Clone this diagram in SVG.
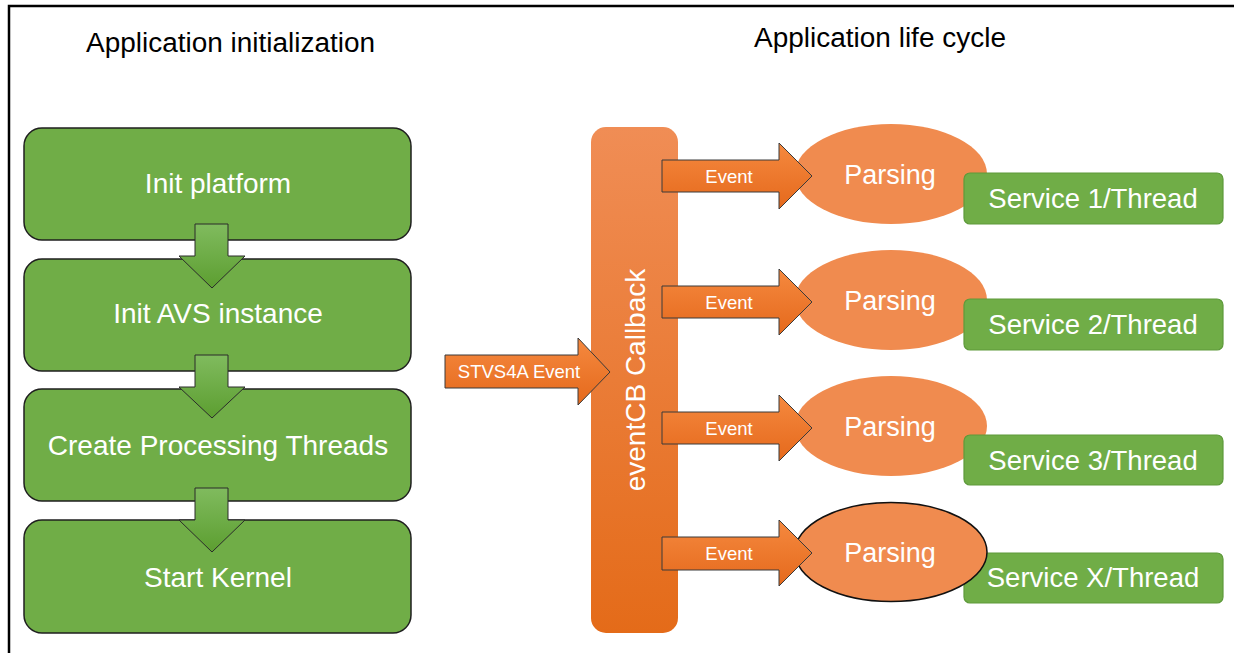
<svg xmlns="http://www.w3.org/2000/svg" width="1234" height="653" viewBox="0 0 1234 653">
<defs>
<linearGradient id="gDown" x1="0" y1="0" x2="0" y2="1">
<stop offset="0" stop-color="#80BB5E"/>
<stop offset="1" stop-color="#5C9E30"/>
</linearGradient>
<linearGradient id="gCol" x1="0" y1="0" x2="0" y2="1">
<stop offset="0" stop-color="#F08D55"/>
<stop offset="1" stop-color="#E46B19"/>
</linearGradient>
<linearGradient id="gArr" x1="0" y1="0" x2="0" y2="1">
<stop offset="0" stop-color="#F5893F"/>
<stop offset="1" stop-color="#E5691C"/>
</linearGradient>
</defs>
<style>
.t{font-family:"Liberation Sans",Arial,sans-serif;}
.title{font-size:27px;fill:#000;}
.step{fill:#70AD47;stroke:#1f1f1f;stroke-width:1.5;}
.stept{font-size:28px;fill:#FFFFFF;text-anchor:middle;}
.down{fill:url(#gDown);stroke:#2a2a2a;stroke-width:1;}
.arr{fill:url(#gArr);stroke:#3a3a3a;stroke-width:1;}
.arrt{font-size:18.5px;fill:#FFFFFF;text-anchor:middle;}
.ell{fill:#F08B4F;}
.ellt{font-size:27px;fill:#FFFFFF;text-anchor:middle;}
.svc{fill:#70AD47;stroke:#5E9A3B;stroke-width:1.2;}
.svct{font-size:27.5px;fill:#FFFFFF;text-anchor:middle;}
</style>
<rect x="0" y="0" width="1234" height="653" fill="#FFFFFF"/>
<path d="M9,653 V6 H1234" fill="none" stroke="#000" stroke-width="2.5"/>

<text class="t title" x="86" y="52" textLength="289" lengthAdjust="spacingAndGlyphs">Application initialization</text>
<text class="t title" x="754" y="47" textLength="252" lengthAdjust="spacingAndGlyphs">Application life cycle</text>

<g id="step1"><rect class="step" x="24" y="128" width="387" height="112" rx="18"/><text class="t stept" x="218" y="193">Init platform</text></g>
<g id="step2"><rect class="step" x="24" y="259" width="387" height="112" rx="18"/><text class="t stept" x="218" y="323">Init AVS instance</text></g>
<g id="step3"><rect class="step" x="24" y="389" width="387" height="112" rx="18"/><text class="t stept" x="218" y="455">Create Processing Threads</text></g>
<g id="step4"><rect class="step" x="24" y="520" width="387" height="113" rx="18"/><text class="t stept" x="218" y="587">Start Kernel</text></g>

<g id="eventcb">
<rect x="591" y="127" width="87" height="506" rx="15" fill="url(#gCol)"/>
<text class="t" transform="translate(645,380) rotate(-90)" text-anchor="middle" font-size="28" fill="#FFFFFF">eventCB Callback</text>
</g>

<g id="parsing1"><ellipse class="ell" cx="891" cy="174" rx="96" ry="50"/><text class="t ellt" x="890" y="184">Parsing</text></g>
<g id="parsing2"><ellipse class="ell" cx="891" cy="300" rx="96" ry="50"/><text class="t ellt" x="890" y="310">Parsing</text></g>
<g id="parsing3"><ellipse class="ell" cx="891" cy="426" rx="96" ry="50"/><text class="t ellt" x="890" y="436">Parsing</text></g>

<g id="service1"><rect class="svc" x="964" y="173" width="259" height="51" rx="6"/><text class="t svct" x="1093" y="208">Service 1/Thread</text></g>
<g id="service2"><rect class="svc" x="964" y="299" width="259" height="51" rx="6"/><text class="t svct" x="1093" y="334">Service 2/Thread</text></g>
<g id="service3"><rect class="svc" x="964" y="435" width="259" height="50" rx="6"/><text class="t svct" x="1093" y="470">Service 3/Thread</text></g>
<g id="service4"><rect class="svc" x="964" y="553" width="259" height="50" rx="6"/><text class="t svct" x="1093" y="587">Service X/Thread</text></g>

<g id="parsing4"><ellipse class="ell" cx="891" cy="552" rx="96" ry="49.5" stroke="#111" stroke-width="1.5"/><text class="t ellt" x="890" y="562">Parsing</text></g>

<g id="connectors">
<path class="down" d="M195,224 H228 V256 H245 L212,288 L179,256 H195 Z"/>
<path class="down" d="M195,355 H228 V387 H245 L212,418 L179,387 H195 Z"/>
<path class="down" d="M195,488 H228 V520 H245 L212,552 L179,520 H195 Z"/>
<g>
<path class="arr" d="M445,355 H578 V338 L610,372 L578,405 V388 H445 Z"/>
<text class="t arrt" x="519" y="378">STVS4A Event</text>
</g>
<g>
<path class="arr" d="M662,160 H779 V143 L812,176 L779,209 V192 H662 Z"/>
<text class="t arrt" x="729" y="183">Event</text>
</g>
<g>
<path class="arr" d="M662,286 H779 V269 L812,302 L779,335 V318 H662 Z"/>
<text class="t arrt" x="729" y="309">Event</text>
</g>
<g>
<path class="arr" d="M662,412 H779 V395 L812,428 L779,461 V444 H662 Z"/>
<text class="t arrt" x="729" y="435">Event</text>
</g>
<g>
<path class="arr" d="M662,537 H779 V520 L812,553 L779,586 V570 H662 Z"/>
<text class="t arrt" x="729" y="560">Event</text>
</g>
</g>
</svg>
